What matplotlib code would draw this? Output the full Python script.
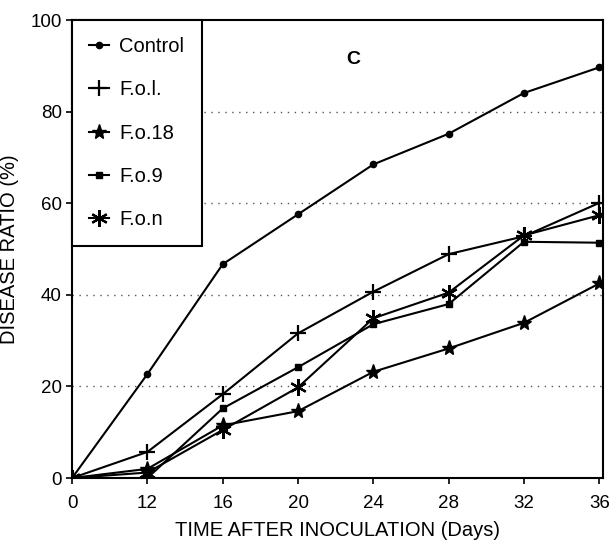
import matplotlib
matplotlib.use("Agg")
import matplotlib.pyplot as plt

days = ["0", "12", "16", "20", "24", "28", "32", "36"]
control = [0, 22.7, 46.7, 57.6, 68.5, 75.2, 84.1, 89.7]
fol = [0, 5.7, 18.3, 31.6, 40.7, 48.9, 52.8, 60.1]
fo18 = [0, 2.0, 11.5, 14.6, 23.2, 28.3, 33.9, 42.5]
fo9 = [0, 0.0, 15.2, 24.2, 33.6, 38.0, 51.6, 51.4]
fon = [0, 1.2, 10.5, 19.8, 34.9, 40.5, 53.0, 57.4]

plt.rcParams['font.family'] = ['Liberation Sans', 'DejaVu Sans']
fig = plt.figure(figsize=(6.16, 5.46), dpi=100)
ax = fig.add_axes([0.117, 0.1245, 0.862, 0.8385])

x = list(range(len(days)))
for yv in [20, 40, 60, 80]:
    ax.axhline(yv, color='#555555', linestyle=(0, (1, 4)), linewidth=1.0, zorder=1)

kw = dict(color='black', linewidth=1.5, zorder=3)
ax.plot(x, control, marker='o', markersize=4.5, label='Control', **kw)
ax.plot(x, fol, marker='+', markersize=12, markeredgewidth=1.6, label='F.o.l.', **kw)
ax.plot(x, fo18, marker='*', markersize=11, label='F.o.18', **kw)
ax.plot(x, fo9, marker='s', markersize=5, label='F.o.9', **kw)
ax.plot(x, fon, marker=(6, 2, 0), markersize=12, markeredgewidth=1.6, label='F.o.n', **kw)

ax.set_xlim(0, 7.05)
ax.set_ylim(0, 100)
ax.set_xticks(x)
ax.set_xticklabels(days)
ax.set_yticks([0, 20, 40, 60, 80, 100])
ax.tick_params(axis='both', labelsize=13.5, direction='out', length=4, width=1.2)
ax.tick_params(axis='x', pad=8)
for s in ax.spines.values():
    s.set_linewidth(1.5)
ax.set_xlabel('TIME AFTER INOCULATION (Days)', fontsize=14.5, labelpad=7)
ax.set_ylabel('DISEASE RATIO (%)', fontsize=14.5, labelpad=8)

ax.text(3.73, 91.5, 'C', fontsize=14, fontweight='bold', ha='center', va='center')

leg = ax.legend(loc='upper left', fontsize=14.5, handlelength=1.0, handletextpad=0.5,
                labelspacing=1.2, borderaxespad=0.0, fancybox=False, framealpha=1,
                edgecolor='black', borderpad=0.85)
leg.get_frame().set_linewidth(1.5)
leg.set_zorder(5)

fig.savefig('out.png', dpi=100)
